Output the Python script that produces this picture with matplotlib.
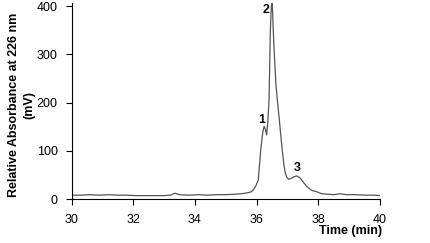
import matplotlib
matplotlib.use("Agg")
import matplotlib.pyplot as plt

plt.rcParams['font.family'] = ['Liberation Sans', 'DejaVu Sans']

# chromatogram (time in min, signal in mV)
time_min = [30.0, 30.3, 30.6, 30.9, 31.2, 31.5, 31.8, 32.1, 32.4, 32.7,
            33.0, 33.2, 33.35, 33.5, 33.8, 34.1, 34.4, 34.7, 35.0, 35.3,
            35.5, 35.72, 35.82, 35.89, 35.97, 36.05, 36.13, 36.2, 36.24,
            36.28, 36.32, 36.36, 36.40, 36.44, 36.47, 36.49, 36.51, 36.54,
            36.58, 36.62, 36.67, 36.73, 36.78, 36.83, 36.88, 36.92, 36.97,
            37.03, 37.12, 37.2, 37.3, 37.4, 37.5, 37.62, 37.78, 37.95,
            38.1, 38.3, 38.5, 38.7, 38.9, 39.2, 39.5, 39.8, 40.0]
signal_mv = [8, 8, 9, 8, 9, 8, 8, 7, 7, 7,
             7, 8, 12, 9, 8, 9, 8, 9, 9, 10,
             11, 13, 15, 19, 27, 39, 102, 140, 151,
             145, 133, 160, 205, 344, 395, 407, 398, 344,
             290, 240, 205, 167, 132, 100, 72, 56, 46,
             41, 43, 46, 48, 44, 36, 26, 18, 15,
             11, 10, 9, 11, 9, 9, 8, 8, 7]

peak_labels = ['1', '2', '3']
peak_label_pos = [(36.16, 165), (36.29, 393), (37.30, 64)]

fig = plt.figure(figsize=(4.31, 2.43), dpi=100)
ax = fig.add_axes([0.166, 0.181, 0.716, 0.807])
ax.plot(time_min, signal_mv, color='#555555', lw=0.9)

for lab, (tx, ty) in zip(peak_labels, peak_label_pos):
    ax.text(tx, ty, lab, fontsize=9, fontweight='bold', ha='center', va='center')

ax.set_xlim(30, 40)
ax.set_ylim(0, 407)
ax.set_xticks(range(30, 41, 2))
ax.set_yticks(range(0, 401, 100))
ax.tick_params(labelsize=9, length=4, width=0.8, direction='out')
ax.tick_params(axis='x', pad=7)
ax.tick_params(axis='y', pad=6)
ax.spines['top'].set_visible(False)
ax.spines['right'].set_visible(False)

ax.set_ylabel('Relative Absorbance at 226 nm\n(mV)', fontsize=9, fontweight='bold',
              linespacing=1.3, va='center')
ax.yaxis.set_label_coords(-0.162, 0.48)
fig.text(0.886, 0.076, 'Time (min)', fontsize=9, fontweight='bold', ha='right', va='top')

fig.savefig('out.png', dpi=100)
